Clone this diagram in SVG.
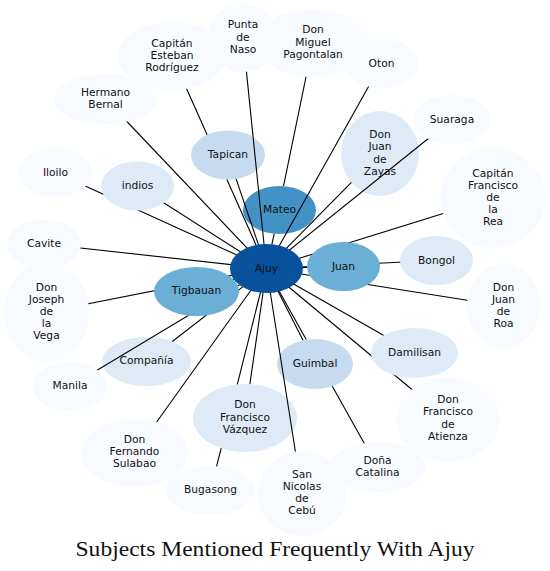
<svg xmlns="http://www.w3.org/2000/svg" width="550" height="571" viewBox="0 0 550 571">
<style>
.c0{fill:#f7fbff}.c1{fill:#deebf7}.c2{fill:#c6dbef}.c3{fill:#6baed6}.c4{fill:#4292c6}.c5{fill:#08519c}
text{font-family:"DejaVu Sans","Liberation Sans",sans-serif;font-size:10.7px;fill:#111;text-anchor:middle}
#edges line{stroke:#000;stroke-width:1.1}
.title{font-family:"Liberation Serif","DejaVu Serif",serif;font-size:22px;fill:#111}
</style>
<rect width="550" height="571" fill="#fff"/>
<g id="n-tapican"><ellipse class="c2" cx="228" cy="155" rx="37" ry="24.5"/><text x="228" y="158">Tapican</text></g>
<g id="n-mateo"><ellipse class="c4" cx="279.5" cy="210" rx="36.5" ry="24"/><text x="279.5" y="213">Mateo</text></g>
<g id="n-zayas"><ellipse class="c1" cx="380" cy="153.5" rx="39" ry="42.5"/><text x="380" y="138.3">Don</text><text x="380" y="150.4">Juan</text><text x="380" y="162.5">de</text><text x="380" y="174.6">Zayas</text></g>
<g id="n-compania"><ellipse class="c1" cx="146.5" cy="361.5" rx="44.5" ry="24.5"/><text x="146.5" y="364">Compañía</text></g>
<g id="n-guimbal"><ellipse class="c2" cx="315" cy="364" rx="38" ry="25"/><text x="315" y="367">Guimbal</text></g>
<g id="n-vazquez"><ellipse class="c1" cx="245" cy="418" rx="52" ry="34"/><text x="245" y="408.4">Don</text><text x="245" y="420.5">Francisco</text><text x="245" y="432.6">Vázquez</text></g>
<g id="edges">
<line x1="274.2" y1="233.8" x2="266.5" y2="268.5"/>
<line x1="313" y1="43" x2="283.5" y2="186.2"/>
<line x1="243" y1="38" x2="266.5" y2="268.5"/>
<line x1="236.1" y1="178.9" x2="266.5" y2="268.5"/>
<line x1="172" y1="56" x2="207.1" y2="134.8"/>
<line x1="226.9" y1="179.5" x2="266.5" y2="268.5"/>
<line x1="105.5" y1="99" x2="266.5" y2="268.5"/>
<line x1="55.5" y1="172.5" x2="266.5" y2="268.5"/>
<line x1="137.5" y1="186" x2="266.5" y2="268.5"/>
<line x1="44" y1="244" x2="266.5" y2="268.5"/>
<line x1="46.5" y1="312" x2="266.5" y2="268.5"/>
<line x1="196.5" y1="291.5" x2="266.5" y2="268.5"/>
<line x1="70" y1="386.5" x2="266.5" y2="268.5"/>
<line x1="172.3" y1="341.5" x2="266.5" y2="268.5"/>
<line x1="134.5" y1="453" x2="266.5" y2="268.5"/>
<line x1="249.9" y1="384.2" x2="266.5" y2="268.5"/>
<line x1="210.5" y1="490.5" x2="221.2" y2="448.2"/>
<line x1="237.3" y1="384.4" x2="266.5" y2="268.5"/>
<line x1="302" y1="493.5" x2="266.5" y2="268.5"/>
<line x1="303" y1="340.3" x2="266.5" y2="268.5"/>
<line x1="377.5" y1="467" x2="332.3" y2="386.2"/>
<line x1="306.2" y1="339.6" x2="266.5" y2="268.5"/>
<line x1="448" y1="419.5" x2="266.5" y2="268.5"/>
<line x1="414.5" y1="353" x2="266.5" y2="268.5"/>
<line x1="503.5" y1="306" x2="266.5" y2="268.5"/>
<line x1="343.5" y1="266.5" x2="266.5" y2="268.5"/>
<line x1="436.5" y1="260.5" x2="266.5" y2="268.5"/>
<line x1="493" y1="198" x2="266.5" y2="268.5"/>
<line x1="452" y1="119.5" x2="266.5" y2="268.5"/>
<line x1="351.4" y1="182.4" x2="266.5" y2="268.5"/>
<line x1="381.5" y1="63.5" x2="266.5" y2="268.5"/>
</g>
<g id="n-esteban"><ellipse class="c0" cx="172" cy="56" rx="54" ry="34"/><text x="172" y="46.9">Capitán</text><text x="172" y="59">Esteban</text><text x="172" y="71.1">Rodríguez</text></g>
<g id="n-hermano"><ellipse class="c0" cx="105.5" cy="99" rx="51.5" ry="25"/><text x="105.5" y="95.5">Hermano</text><text x="105.5" y="107.6">Bernal</text></g>
<g id="n-punta"><ellipse class="c0" cx="243" cy="38" rx="36" ry="34"/><text x="243" y="28.4">Punta</text><text x="243" y="40.5">de</text><text x="243" y="52.6">Naso</text></g>
<g id="n-miguel"><ellipse class="c0" cx="313" cy="43" rx="56" ry="34"/><text x="313" y="33.4">Don</text><text x="313" y="45.5">Miguel</text><text x="313" y="57.6">Pagontalan</text></g>
<g id="n-oton"><ellipse class="c0" cx="381.5" cy="63.5" rx="36.5" ry="24.5"/><text x="381.5" y="66.5">Oton</text></g>
<g id="n-suaraga"><ellipse class="c0" cx="452" cy="119.5" rx="39" ry="24.5"/><text x="452" y="122.5">Suaraga</text></g>
<g id="n-rea"><ellipse class="c0" cx="493" cy="198" rx="52.5" ry="50"/><text x="493" y="176.8">Capitán</text><text x="493" y="188.9">Francisco</text><text x="493" y="201">de</text><text x="493" y="213.1">la</text><text x="493" y="225.2">Rea</text></g>
<g id="n-iloilo"><ellipse class="c0" cx="55.5" cy="172.5" rx="36.5" ry="24.5"/><text x="55.5" y="175.5">Iloilo</text></g>
<g id="n-indios"><ellipse class="c1" cx="137.5" cy="186" rx="36.5" ry="24.5"/><text x="137.5" y="189">indios</text></g>
<g id="n-cavite"><ellipse class="c0" cx="44" cy="244" rx="37" ry="24"/><text x="44" y="247">Cavite</text></g>
<g id="n-vega"><ellipse class="c0" cx="46.5" cy="312" rx="42.5" ry="50"/><text x="46.5" y="290.8">Don</text><text x="46.5" y="302.9">Joseph</text><text x="46.5" y="315">de</text><text x="46.5" y="327.1">la</text><text x="46.5" y="339.2">Vega</text></g>
<g id="n-manila"><ellipse class="c0" cx="70" cy="386.5" rx="37" ry="24.5"/><text x="70" y="389">Manila</text></g>
<g id="n-tigbauan"><ellipse class="c3" cx="196.5" cy="291.5" rx="42.5" ry="24.5"/><text x="196.5" y="294">Tigbauan</text></g>
<g id="n-sulabao"><ellipse class="c0" cx="134.5" cy="453" rx="53.5" ry="34"/><text x="134.5" y="443">Don</text><text x="134.5" y="455.1">Fernando</text><text x="134.5" y="467.2">Sulabao</text></g>
<g id="n-bugasong"><ellipse class="c0" cx="210.5" cy="490.5" rx="44.5" ry="24.5"/><text x="210.5" y="493">Bugasong</text></g>
<g id="n-cebu"><ellipse class="c0" cx="302" cy="493.5" rx="44.5" ry="42.5"/><text x="302" y="477.7">San</text><text x="302" y="489.8">Nicolas</text><text x="302" y="501.9">de</text><text x="302" y="514">Cebú</text></g>
<g id="n-catalina"><ellipse class="c0" cx="377.5" cy="467" rx="47.5" ry="25"/><text x="377.5" y="463.5">Doña</text><text x="377.5" y="475.6">Catalina</text></g>
<g id="n-atienza"><ellipse class="c0" cx="448" cy="419.5" rx="52" ry="42"/><text x="448" y="403.3">Don</text><text x="448" y="415.4">Francisco</text><text x="448" y="427.5">de</text><text x="448" y="439.6">Atienza</text></g>
<g id="n-damilisan"><ellipse class="c1" cx="414.5" cy="353" rx="43.5" ry="25"/><text x="414.5" y="356">Damilisan</text></g>
<g id="n-roa"><ellipse class="c0" cx="503.5" cy="306" rx="36.5" ry="42"/><text x="503.5" y="290.8">Don</text><text x="503.5" y="302.9">Juan</text><text x="503.5" y="315">de</text><text x="503.5" y="327.1">Roa</text></g>
<g id="n-bongol"><ellipse class="c1" cx="436.5" cy="260.5" rx="36.5" ry="24.5"/><text x="436.5" y="263.5">Bongol</text></g>
<g id="n-juan"><ellipse class="c3" cx="343.5" cy="266.5" rx="36.5" ry="24.5"/><text x="343.5" y="269.5">Juan</text></g>
<g id="n-ajuy"><ellipse class="c5" cx="266.5" cy="268.5" rx="36.5" ry="24.5"/><text x="266.5" y="271.5">Ajuy</text></g>
<text class="title" x="275" y="556" textLength="399" lengthAdjust="spacingAndGlyphs">Subjects Mentioned Frequently With Ajuy</text>
</svg>
